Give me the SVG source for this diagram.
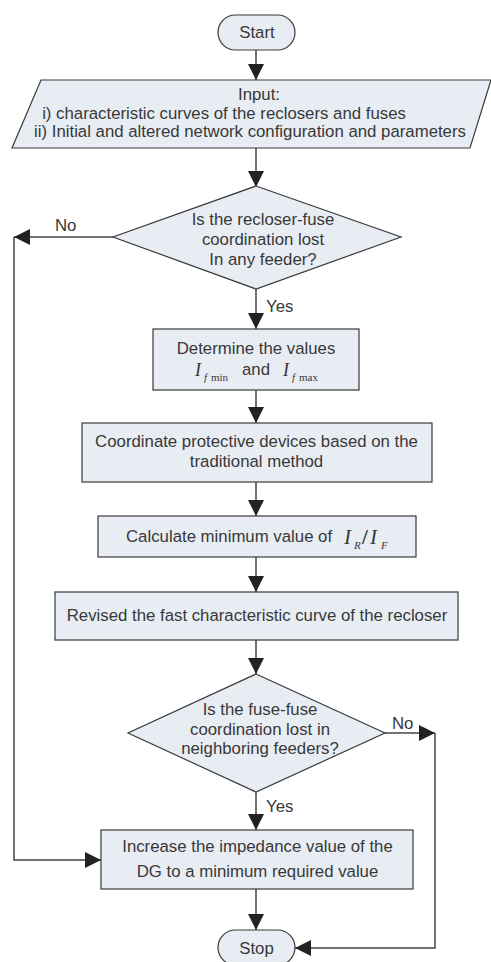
<svg xmlns="http://www.w3.org/2000/svg" width="491" height="962" viewBox="0 0 491 962">
  <style>
    .shape { fill: #e8edf4; stroke: #3a3a3a; stroke-width: 1.2; }
    .wire { fill: none; stroke: #444; stroke-width: 1.5; }
    .t { font-family: "Liberation Sans", Arial, sans-serif; font-size: 16.8px; fill: #383838; text-anchor: middle; }
    .lbl { font-family: "Liberation Sans", Arial, sans-serif; font-size: 16.8px; fill: #383838; }
    .m { font-family: "Liberation Serif", "Times New Roman", serif; fill: #383838; }
  </style>
  <defs>
    <marker id="arrow" viewBox="0 0 16 16" refX="16" refY="8" markerWidth="16" markerHeight="16" markerUnits="userSpaceOnUse" orient="auto">
      <path d="M0,0 L16,8 L0,16 Z" fill="#222"/>
    </marker>
  </defs>

  <!-- connectors -->
  <g id="connectors">
    <line class="wire" x1="256" y1="50" x2="256" y2="80" marker-end="url(#arrow)"/>
    <line class="wire" x1="256" y1="148" x2="256" y2="187" marker-end="url(#arrow)"/>
    <line class="wire" x1="256" y1="289" x2="256" y2="329" marker-end="url(#arrow)"/>
    <line class="wire" x1="256" y1="390" x2="256" y2="423" marker-end="url(#arrow)"/>
    <line class="wire" x1="256" y1="482" x2="256" y2="516" marker-end="url(#arrow)"/>
    <line class="wire" x1="256" y1="557" x2="256" y2="592" marker-end="url(#arrow)"/>
    <line class="wire" x1="256" y1="640" x2="256" y2="674" marker-end="url(#arrow)"/>
    <line class="wire" x1="256" y1="792" x2="256" y2="830" marker-end="url(#arrow)"/>
    <line class="wire" x1="256" y1="889" x2="256" y2="930" marker-end="url(#arrow)"/>
    <!-- No branch of first decision -->
    <line class="wire" x1="113" y1="237" x2="14" y2="237" marker-end="url(#arrow)"/>
    <polyline class="wire" points="14,237 14,860 101,860" marker-end="url(#arrow)"/>
    <!-- No branch of second decision -->
    <line class="wire" x1="385" y1="733" x2="435" y2="733" marker-end="url(#arrow)"/>
    <polyline class="wire" points="435,733 435,948 295,948" marker-end="url(#arrow)"/>
    <text class="lbl" x="55" y="231">No</text>
    <text class="lbl" x="266" y="312">Yes</text>
    <text class="lbl" x="392" y="729">No</text>
    <text class="lbl" x="266" y="812">Yes</text>
  </g>

  <g id="start">
    <rect class="shape" x="218" y="15" width="77" height="35" rx="17.5"/>
    <text class="t" x="257" y="38">Start</text>
  </g>

  <g id="input">
    <polygon class="shape" points="41,80 491,80 470,148 12,148"/>
    <text class="t" x="259" y="100">Input:</text>
    <text class="t" x="224" y="119">i) characteristic curves of the reclosers and fuses</text>
    <text class="t" x="250" y="137">ii) Initial and altered network configuration and parameters</text>
  </g>

  <g id="decision-recloser-fuse">
    <polygon class="shape" points="256,186 401,237 256,289 113,237"/>
    <text class="t" x="263" y="225">Is the recloser-fuse</text>
    <text class="t" x="263" y="245">coordination lost</text>
    <text class="t" x="263" y="265">In any feeder?</text>
  </g>

  <g id="determine">
    <rect class="shape" x="153" y="329" width="206" height="61"/>
    <text class="t" x="256" y="354">Determine the values</text>
    <text class="m" x="195" y="376" font-size="18" font-style="italic">I</text>
    <text class="m" x="204" y="381" font-size="11" font-style="italic">f</text>
    <text class="m" x="211" y="381" font-size="11">min</text>
    <text class="lbl" x="242" y="375">and</text>
    <text class="m" x="283" y="376" font-size="18" font-style="italic">I</text>
    <text class="m" x="292" y="381" font-size="11" font-style="italic">f</text>
    <text class="m" x="299" y="381" font-size="11">max</text>
  </g>

  <g id="coordinate">
    <rect class="shape" x="82" y="423" width="350" height="59"/>
    <text class="t" x="256.5" y="447">Coordinate protective devices based on the</text>
    <text class="t" x="256.5" y="467">traditional method</text>
  </g>

  <g id="calculate">
    <rect class="shape" x="98" y="516" width="318" height="41"/>
    <text class="lbl" x="126" y="542">Calculate minimum value of</text>
    <text class="m" x="344" y="544" font-size="21" font-style="italic">I</text>
    <text class="m" x="354" y="549" font-size="11" font-style="italic">R</text>
    <text class="m" x="362" y="544" font-size="21" font-weight="bold">/</text>
    <text class="m" x="370" y="544" font-size="21" font-style="italic">I</text>
    <text class="m" x="381" y="549" font-size="11" font-style="italic">F</text>
  </g>

  <g id="revise">
    <rect class="shape" x="55" y="592" width="403" height="48"/>
    <text class="t" x="257" y="621">Revised the fast characteristic curve of the recloser</text>
  </g>

  <g id="decision-fuse-fuse">
    <polygon class="shape" points="256,674 385,733 256,792 128,733"/>
    <text class="t" x="260" y="715">Is the fuse-fuse</text>
    <text class="t" x="260" y="735">coordination lost in</text>
    <text class="t" x="260" y="754">neighboring feeders?</text>
  </g>

  <g id="increase">
    <rect class="shape" x="101" y="830" width="312" height="59"/>
    <text class="t" x="257.5" y="852">Increase the impedance value of the</text>
    <text class="t" x="257.5" y="877">DG to a minimum required value</text>
  </g>

  <g id="stop">
    <rect class="shape" x="218" y="930" width="77" height="35" rx="17.5"/>
    <text class="t" x="256.5" y="954">Stop</text>
  </g>
</svg>
